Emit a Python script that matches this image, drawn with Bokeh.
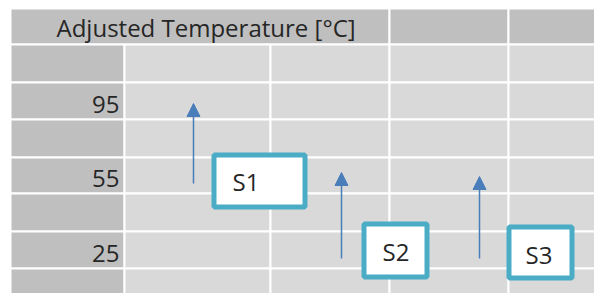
from bokeh.plotting import figure
from bokeh.models import Range1d, Arrow, NormalHead, ColumnDataSource
from bokeh.core.properties import value
from bokeh.embed import file_html
from bokeh.resources import INLINE

# ---- content ----
header = "Adjusted Temperature [°C]"
row_labels = ["", "95", "", "55", "", "25", ""]
series = ["S1", "S2", "S3"]

# ---- sheet layout (pixel space of the sheet) ----
col_edges = [10, 124, 270, 389, 508, 600]
row_edges = [8, 44, 82, 119, 157, 193, 231, 268, 300]
arrow_x = [193, 341, 479]
arrow_from = [183, 258, 258]
arrow_to = [103, 172, 176]
box_left = [213.5, 363.5, 508.5]
box_right = [304.5, 426.5, 571.5]
box_top = [154.5, 223.5, 226.5]
box_bottom = [206.5, 276.5, 277.5]
label_x = [232, 382, 525]
label_y = [181, 251, 254]

FONT = "Open Sans"
FS = "24px"
DARK = "#bfbfbf"
LIGHT = "#d9d9d9"
INK = "#262626"

p = figure(width=594, height=293, x_range=Range1d(0, 594), y_range=Range1d(293, 0),
           output_backend="svg", toolbar_location=None, min_border=0)
p.axis.visible = False
p.grid.visible = False
p.outline_line_color = None
p.background_fill_color = "white"
p.border_fill_color = "white"

# cells
L, R, T, B, C = [], [], [], [], []
L += [col_edges[0], col_edges[3], col_edges[4]]
R += [col_edges[3], col_edges[4], col_edges[5]]
T += [row_edges[0]] * 3
B += [row_edges[1]] * 3
C += [DARK] * 3
for i in range(len(row_labels)):
    for j in range(len(col_edges) - 1):
        L.append(col_edges[j]); R.append(col_edges[j + 1])
        T.append(row_edges[i + 1]); B.append(row_edges[i + 2])
        C.append(DARK if j == 0 else LIGHT)
p.quad(left=L, right=R, top=T, bottom=B, fill_color=C, line_color="white", line_width=2)

# header text
p.text(x=[56], y=[27], text=[header], text_font=value(FONT), text_font_size=FS,
       text_color=INK, text_baseline="middle", text_align="left")

# row labels
ry = [(row_edges[i + 1] + row_edges[i + 2]) / 2 + 3 for i in range(len(row_labels))]
p.text(x=[119] * len(row_labels), y=ry, text=row_labels, text_font=value(FONT),
       text_font_size=FS, text_color=INK, text_baseline="middle", text_align="right")

# arrows
asrc = ColumnDataSource(dict(x=arrow_x, y0=arrow_from, y1=arrow_to))
p.add_layout(Arrow(end=NormalHead(size=13, fill_color="#4a7ebb", line_color="#4a7ebb"),
                   x_start="x", y_start="y0", x_end="x", y_end="y1", source=asrc,
                   line_color="#4a7ebb", line_width=1.5))

# series boxes
p.quad(left=box_left, right=box_right, top=box_top, bottom=box_bottom,
       fill_color="white", line_color="#4bacc6", line_width=5)
p.text(x=label_x, y=label_y, text=series, text_font=value(FONT), text_font_size=FS,
       text_color=INK, text_baseline="middle", text_align="left")

open("out.html", "w").write(file_html(p, INLINE))
